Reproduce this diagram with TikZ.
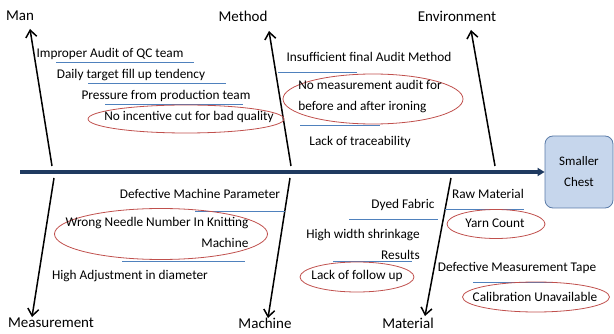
\documentclass[tikz,border=0pt]{standalone}
\usepackage{fontspec}
\setmainfont{Carlito}
\usetikzlibrary{arrows.meta,shapes.geometric}
\definecolor{spinecol}{HTML}{1F3A60}
\definecolor{ulblue}{HTML}{4F81BD}
\definecolor{ringred}{HTML}{C0504D}
\definecolor{boxfill}{HTML}{C6D6EC}
\definecolor{boxline}{HTML}{5A7BA8}
\begin{document}
\begin{tikzpicture}[x=1pt,y=-1pt,
  bone/.style={line width=1.5pt,-{Straight Barb[length=7pt,width=11pt,line width=1.5pt]}},
  cause/.style={font=\fontsize{13.3}{21}\selectfont,inner sep=0pt},
  catlabel/.style={font=\fontsize{15}{17}\selectfont,inner sep=0pt},
  uline/.style={draw=ulblue,line width=0.9pt},
  ring/.style={draw=ringred,line width=0.8pt,ellipse,inner sep=0pt}]
\useasboundingbox (0,0) rectangle (614,334);

% effect box
\node[draw=boxline,fill=boxfill,rounded corners=8pt,line width=0.8pt,minimum width=68pt,minimum height=72pt,align=center,font=\fontsize{13}{21}\selectfont,inner sep=0pt] (effect) at (579,172) {Smaller\\Chest};

% spine
\coordinate (tail) at (20,172);
\draw[spinecol,line width=3.5pt,-{Triangle[length=7pt,width=8pt]}] (tail) -- (effect.west);

% bones
\coordinate (manB) at (52,166);  \coordinate (manT) at (30,29);
\coordinate (metB) at (291,166); \coordinate (metT) at (269,31);
\coordinate (envB) at (495,166); \coordinate (envT) at (471,30);
\coordinate (meaB) at (54,178);  \coordinate (meaT) at (32,317);
\coordinate (macB) at (290,178); \coordinate (macT) at (268,318);
\coordinate (matB) at (451,178); \coordinate (matT) at (425,316);
\draw[bone] (manB) -- (manT);
\draw[bone] (metB) -- (metT);
\draw[bone] (envB) -- (envT);
\draw[bone] (meaB) -- (meaT);
\draw[bone] (macB) -- (macT);
\draw[bone] (matB) -- (matT);

% category labels
\node[catlabel] (man) at (20,16) {Man};
\node[catlabel] (method) at (243,16) {Method};
\node[catlabel] (env) at (457,16) {Environment};
\node[catlabel] (meas) at (51,323) {Measurement};
\node[catlabel] (mach) at (265,323) {Machine};
\node[catlabel] (mat) at (408,323) {Material};

% Man causes
\node[cause] (m1) at (110,54) {Improper Audit of QC team};
\draw[uline] (56,62) -- (194,62);
\node[cause] (m2) at (131,75) {Daily target fill up tendency};
\draw[uline] (88,83) -- (226,83);
\node[cause] (m3) at (166,96) {Pressure from production team};
\draw[uline] (105,104) -- (243,104);
\node[ring,minimum width=196pt,minimum height=28pt] (r4) at (186,119) {};
\node[cause] (m4) at (189,117) {No incentive cut for bad quality};

% Method causes
\node[cause] (t1) at (369,57) {Insufficient final Audit Method};
\draw[uline] (278,72) -- (357,72);
\node[ring,minimum width=180pt,minimum height=50pt] (rt2) at (373,99) {};
\node[cause,align=left] (t2) at (370,97) {No measurement audit for\\before and after ironing};
\draw[uline] (300,125) -- (380,125);
\node[cause] (t3) at (360,142) {Lack of traceability};

% Machine causes
\node[cause] (c1) at (200,194) {Defective Machine Parameter};
\draw[uline] (195,211) -- (285,211);
\node[ring,minimum width=213pt,minimum height=51pt] (rc2) at (161,234) {};
\node[cause,align=right] (c2) at (157,232) {Wrong Needle Number In Knitting\\Machine};
\draw[uline] (122,261) -- (245,261);
\node[cause] (c3) at (130,276) {High Adjustment in diameter};

% Material causes
\node[cause] (a1) at (403,205) {Dyed Fabric};
\draw[uline] (349,219) -- (438,219);
\node[cause] (a2) at (488,194) {Raw Material};
\draw[uline] (445,209) -- (524,209);
\node[ring,minimum width=98pt,minimum height=29pt] (ra3) at (496,224) {};
\node[cause] (a3) at (495,223) {Yarn Count};
\node[cause,align=right] (a4) at (363,244) {High width shrinkage\\Results};
\draw[uline] (333,261) -- (412,261);
\node[ring,minimum width=114pt,minimum height=30pt] (ra5) at (357,277) {};
\node[cause] (a5) at (357,276) {Lack of follow up};
\node[cause] (a6) at (517,268) {Defective Measurement Tape};
\draw[uline] (473,282) -- (553,282);
\node[ring,minimum width=147pt,minimum height=30pt] (ra7) at (536,297) {};
\node[cause] (a7) at (535,297) {Calibration Unavailable};
\end{tikzpicture}
\end{document}
